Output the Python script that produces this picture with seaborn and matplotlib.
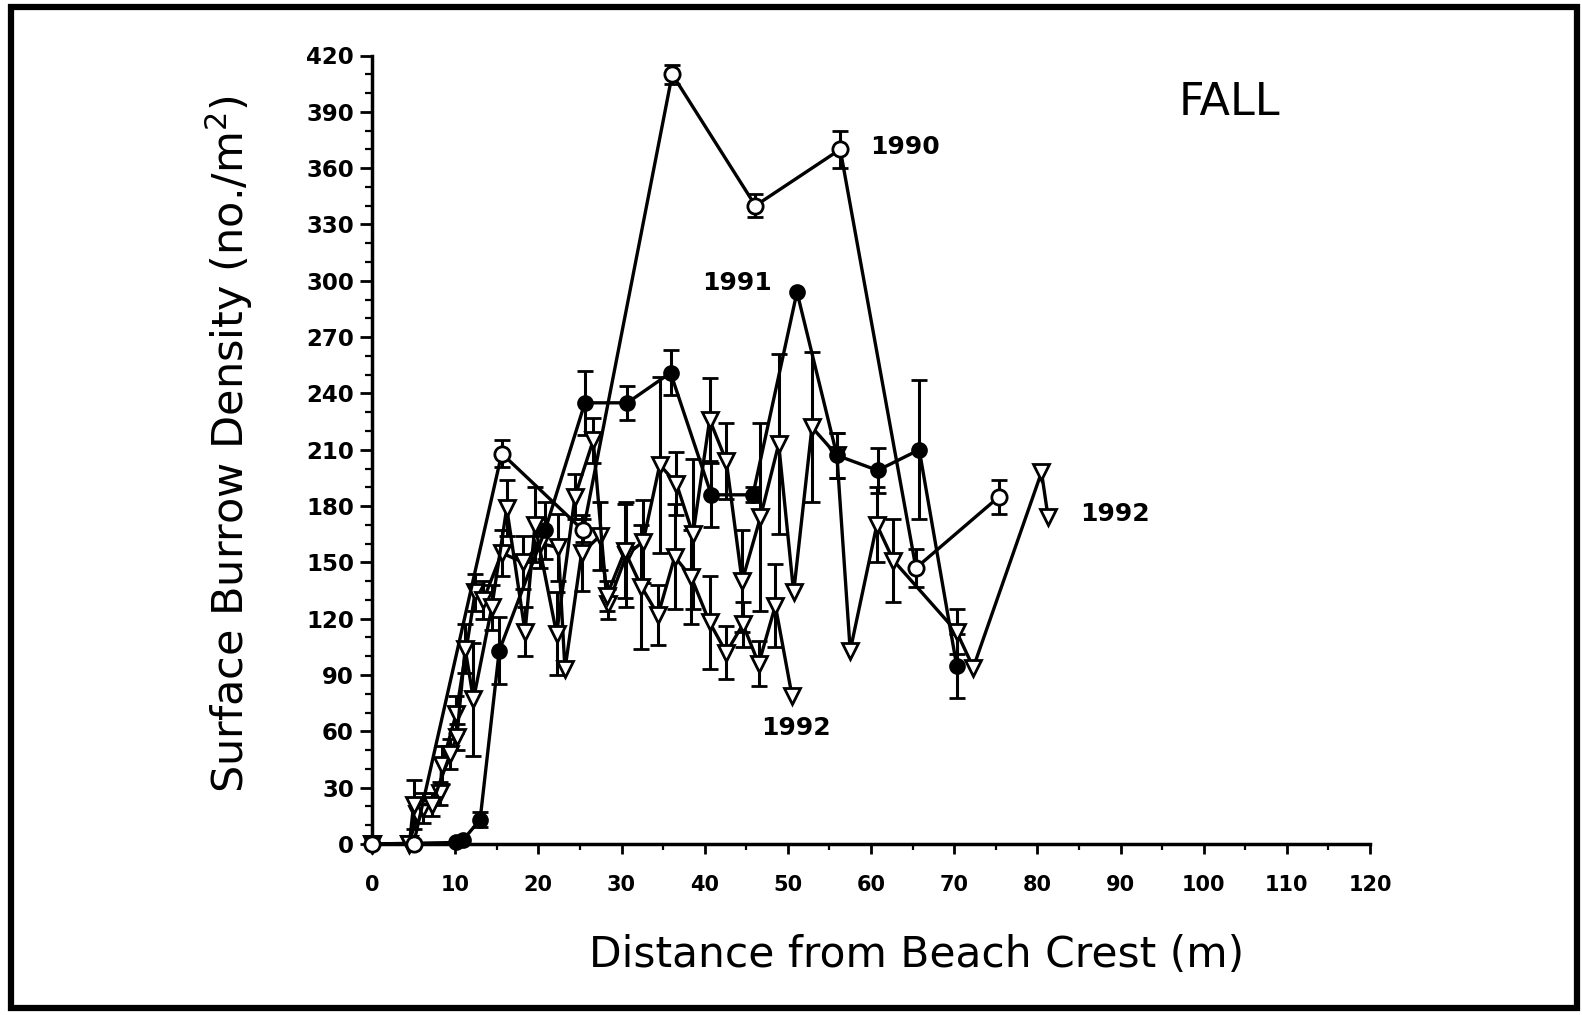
import numpy as np
import pandas as pd
import matplotlib
matplotlib.use("Agg")
import matplotlib.pyplot as plt
from matplotlib.ticker import MultipleLocator
from matplotlib.patches import Rectangle
import seaborn as sns

# ---------------- data ----------------
x_1990 = [0, 5, 15.6, 25.4, 36.1, 46.1, 56.3, 65.4, 75.4]
y_1990 = [0, 0, 208, 167, 410, 340, 370, 147, 185]
e_1990 = [0, 0, 7, 6, 5, 6, 10, 10, 9]

x_1991 = [0, 10.1, 10.9, 13.0, 15.3, 20.8, 25.6, 30.7, 35.9, 40.8, 45.8, 51.1, 55.9, 60.8, 65.8, 70.3]
y_1991 = [0, 0.8, 1.9, 13, 103, 167, 235, 235, 251, 186, 186, 294, 207, 199, 210, 95]
e_1991 = [0, 0, 0, 4, 18, 15, 17, 9, 12, 17, 4, 0, 12, 12, 37, 17]

x_1992a = [0, 4.5, 5.0, 7.2, 9.4, 10.2, 11.2, 12.2, 14.4, 16.2, 18.4, 19.6, 22.2, 24.4, 26.6,
           28.2, 30.4, 32.4, 34.4, 36.4, 38.4, 40.6, 42.6, 44.6, 46.5, 48.5, 50.5]
y_1992a = [0, 0, 21, 21, 48, 57, 104, 77, 126, 179, 113, 170, 112, 185, 215,
           132, 156, 137, 122, 153, 142, 118, 102, 117, 96, 127, 79]
e_1992a = [0, 0, 13, 6, 8, 7, 13, 30, 12, 15, 13, 20, 22, 12, 12,
           8, 25, 33, 16, 28, 25, 25, 14, 12, 12, 22, 0]

x_1992b = [0, 4.5, 5.4, 6.1, 8.2, 8.4, 10.1, 12.4, 13.4, 15.6, 18.2, 20.2, 22.4, 23.2, 25.2,
           27.4, 28.4, 30.6, 32.6, 34.6, 36.6, 38.6, 40.6, 42.6, 44.5, 46.7, 48.9, 50.7,
           52.9, 55.9, 57.5, 60.7, 62.7, 70.3, 72.3, 80.5, 81.3]
y_1992b = [0, 0, 16, 19, 27, 42, 69, 134, 130, 155, 150, 160, 158, 93, 155,
           164, 128, 154, 161, 202, 192, 165, 226, 204, 140, 174, 213, 134,
           222, 207, 103, 170, 151, 113, 94, 198, 174]
e_1992b = [0, 0, 0, 8, 6, 10, 10, 10, 10, 12, 14, 13, 18, 0, 20,
           18, 8, 28, 22, 47, 17, 40, 22, 20, 27, 50, 48, 0,
           40, 12, 0, 20, 22, 12, 0, 0, 0]

y_ticks = list(range(0, 421, 30))
x_ticks = list(range(0, 121, 10))

# ---------------- figure ----------------
sns.set_theme(style="ticks")
plt.rcParams["font.family"] = ["DejaVu Sans"]
plt.rcParams["text.color"] = "black"

fig = plt.figure(figsize=(15.82, 10.15), dpi=100)
fig.patch.set_facecolor("white")
ax = fig.add_axes([372 / 1582, 1 - 844 / 1015, 998 / 1582, 788.5 / 1015])
ax.set_facecolor("white")

def draw(xs, ys, es, marker, mfc, ms):
    df = pd.DataFrame({"x": xs, "y": ys, "e": es})
    m = df["e"] > 0
    ax.errorbar(df.loc[m, "x"], df.loc[m, "y"], yerr=df.loc[m, "e"], fmt="none",
                ecolor="black", elinewidth=2.2, capsize=6, capthick=2.0,
                zorder=2, clip_on=False)
    sns.lineplot(data=df, x="x", y="y", sort=False, estimator=None, ax=ax,
                 color="black", lw=2.4, marker=marker, markersize=ms,
                 markerfacecolor=mfc, markeredgecolor="black",
                 markeredgewidth=2.0, clip_on=False, zorder=3)

draw(x_1992b, y_1992b, e_1992b, "v", "white", 11)
draw(x_1992a, y_1992a, e_1992a, "v", "white", 11)
draw(x_1991, y_1991, e_1991, "o", "black", 10)
draw(x_1990, y_1990, e_1990, "o", "white", 11)

ax.set_xlim(0, 120)
ax.set_ylim(0, 420)
ax.set_yticks(y_ticks)
ax.set_yticklabels([str(v) for v in y_ticks], fontweight="bold", fontsize=16.5, color="black")
ax.set_xticks(x_ticks)
ax.set_xticklabels([str(v) for v in x_ticks], fontweight="bold", fontsize=15, color="black")
ax.yaxis.set_minor_locator(MultipleLocator(10))
ax.xaxis.set_minor_locator(MultipleLocator(5))
ax.tick_params(axis="y", which="major", length=9, width=2, direction="out", pad=4, colors="black")
ax.tick_params(axis="y", which="minor", length=5, width=1.6, direction="out", colors="black")
ax.tick_params(axis="x", which="major", length=7, width=2, direction="out", pad=15, colors="black")
ax.tick_params(axis="x", which="minor", length=4, width=1.6, direction="out", colors="black")
for s in ["top", "right"]:
    ax.spines[s].set_visible(False)
for s in ["left", "bottom"]:
    ax.spines[s].set_linewidth(2.5)
    ax.spines[s].set_color("black")

ax.set_xlabel("Distance from Beach Crest (m)", fontsize=30.5, color="black")
ax.xaxis.set_label_coords(0.546, -0.114)
ax.xaxis.label.set_va("top")
ax.set_ylabel("Surface Burrow Density (no./m$^2$)", fontsize=31, color="black")
ax.yaxis.set_label_coords(-0.117, 0.507)

ax.text(59.9, 371, "1990", fontsize=18, fontweight="bold", va="center", ha="left", color="black")
ax.text(39.7, 299, "1991", fontsize=18, fontweight="bold", va="center", ha="left", color="black")
ax.text(46.8, 62, "1992", fontsize=18, fontweight="bold", va="center", ha="left", color="black")
ax.text(85.1, 176, "1992", fontsize=18, fontweight="bold", va="center", ha="left", color="black")
ax.text(97.0, 395, "FALL", fontsize=32, va="center", ha="left", color="black")

fig.patches.append(Rectangle((11 / 1582, 1 - 1008 / 1015), (1577 - 11) / 1582, (1008 - 7) / 1015,
                             transform=fig.transFigure, fill=False, lw=4.5,
                             edgecolor="black", zorder=10))

fig.savefig("out.png", dpi=100)
